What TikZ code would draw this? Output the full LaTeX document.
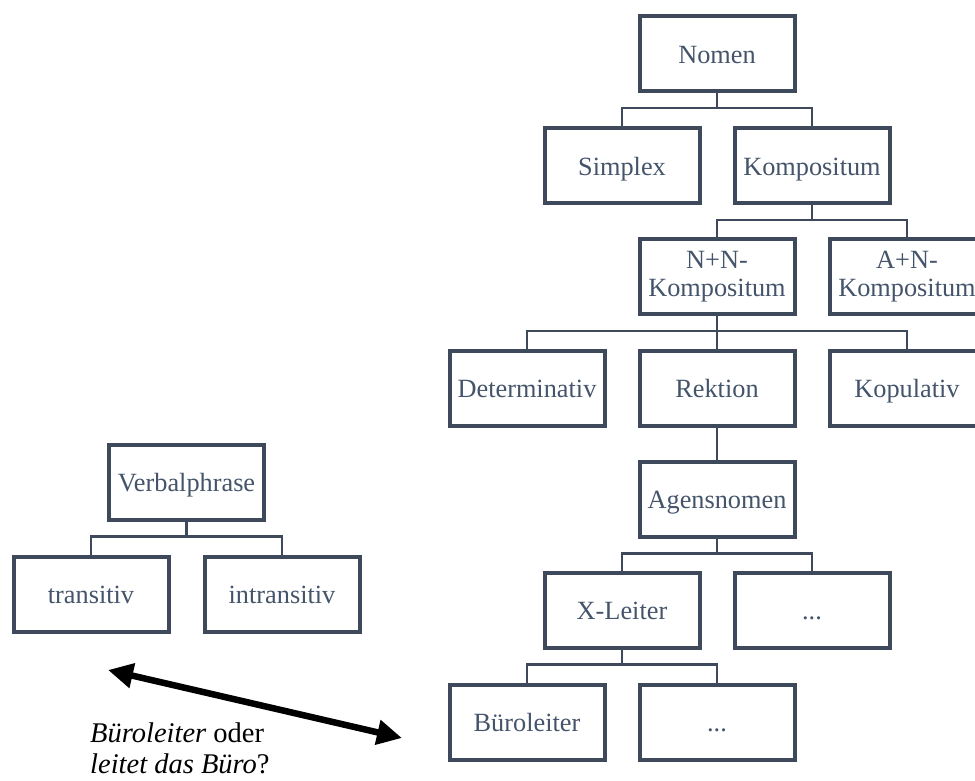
\documentclass[tikz,border=0pt]{standalone}
\usepackage{fontspec}
\setmainfont{Liberation Serif}
\usepackage{tikz}
\usetikzlibrary{arrows.meta}
\usepackage{xcolor}
\definecolor{boxline}{HTML}{3E4A5C}
\definecolor{boxtext}{HTML}{44546A}

\begin{document}
\begin{tikzpicture}[x=1pt,y=-1pt]

\tikzset{box/.style = {shape=rectangle,draw=boxline,line width=4pt,minimum width=155pt,minimum height=75pt,inner sep=0pt,outer sep=0pt,align=center,text=boxtext,font=\fontsize{26.3}{28}\selectfont,text height=25.6pt,text depth=6.6pt}}
\tikzset{twoline/.style = {text height={},text depth={}}}
\tikzset{edge/.style = {draw=boxline,line width=2.6pt,to path={(\tikztostart.south) -- ++(0,17) -| (\tikztotarget.north)}}}
\useasboundingbox (0,0) rectangle (975,780);

% Nomen tree
\node[box] (nomen) at (717,53.5) {Nomen};
\node[box] (simplex) at (622,165.5) {Simplex};
\node[box] (kompositum) at (812,165.5) {Kompositum};
\node[box,twoline] (nn) at (717,276.5) {N+N-\\Kompositum};
\node[box,twoline] (an) at (907,276.5) {A+N-\\Kompositum};
\node[box] (determinativ) at (527,388) {Determinativ};
\node[box] (rektion) at (717,388) {Rektion};
\node[box] (kopulativ) at (907,388) {Kopulativ};
\node[box] (agensnomen) at (717,499) {Agensnomen};
\node[box] (xleiter) at (622,610) {X-Leiter};
\node[box] (dots1) at (812,610) {...};
\node[box] (bueroleiter) at (527,722) {Büroleiter};
\node[box] (dots2) at (717,722) {...};

% Verbalphrase tree
\node[box] (vp) at (186.5,482) {Verbalphrase};
\node[box] (transitiv) at (91,594) {transitiv};
\node[box] (intransitiv) at (282,594) {intransitiv};

%edges
\draw[edge] (nomen) to (simplex);
\draw[edge] (nomen) to (kompositum);
\draw[edge] (kompositum) to (nn);
\draw[edge] (kompositum) to (an);
\draw[edge] (nn) to (determinativ);
\draw[edge] (nn) to (rektion);
\draw[edge] (nn) to (kopulativ);
\draw[edge] (rektion) to (agensnomen);
\draw[edge] (agensnomen) to (xleiter);
\draw[edge] (agensnomen) to (dots1);
\draw[edge] (xleiter) to (bueroleiter);
\draw[edge] (xleiter) to (dots2);
\draw[edge] (vp) to (transitiv);
\draw[edge] (vp) to (intransitiv);

% question
\coordinate (pfeill) at (108,670);
\coordinate (pfeilr) at (402,738);
\draw[line width=6.5pt,{Triangle[length=25pt,width=24pt]}-{Triangle[length=25pt,width=24pt]}] (pfeill) -- (pfeilr);
\node[anchor=west,align=left,inner sep=0pt,font=\fontsize{28.5}{31}\selectfont] (frage) at (90,748.6) {\textit{Büroleiter} oder\\\textit{leitet das Büro}?};
\end{tikzpicture}
\end{document}
